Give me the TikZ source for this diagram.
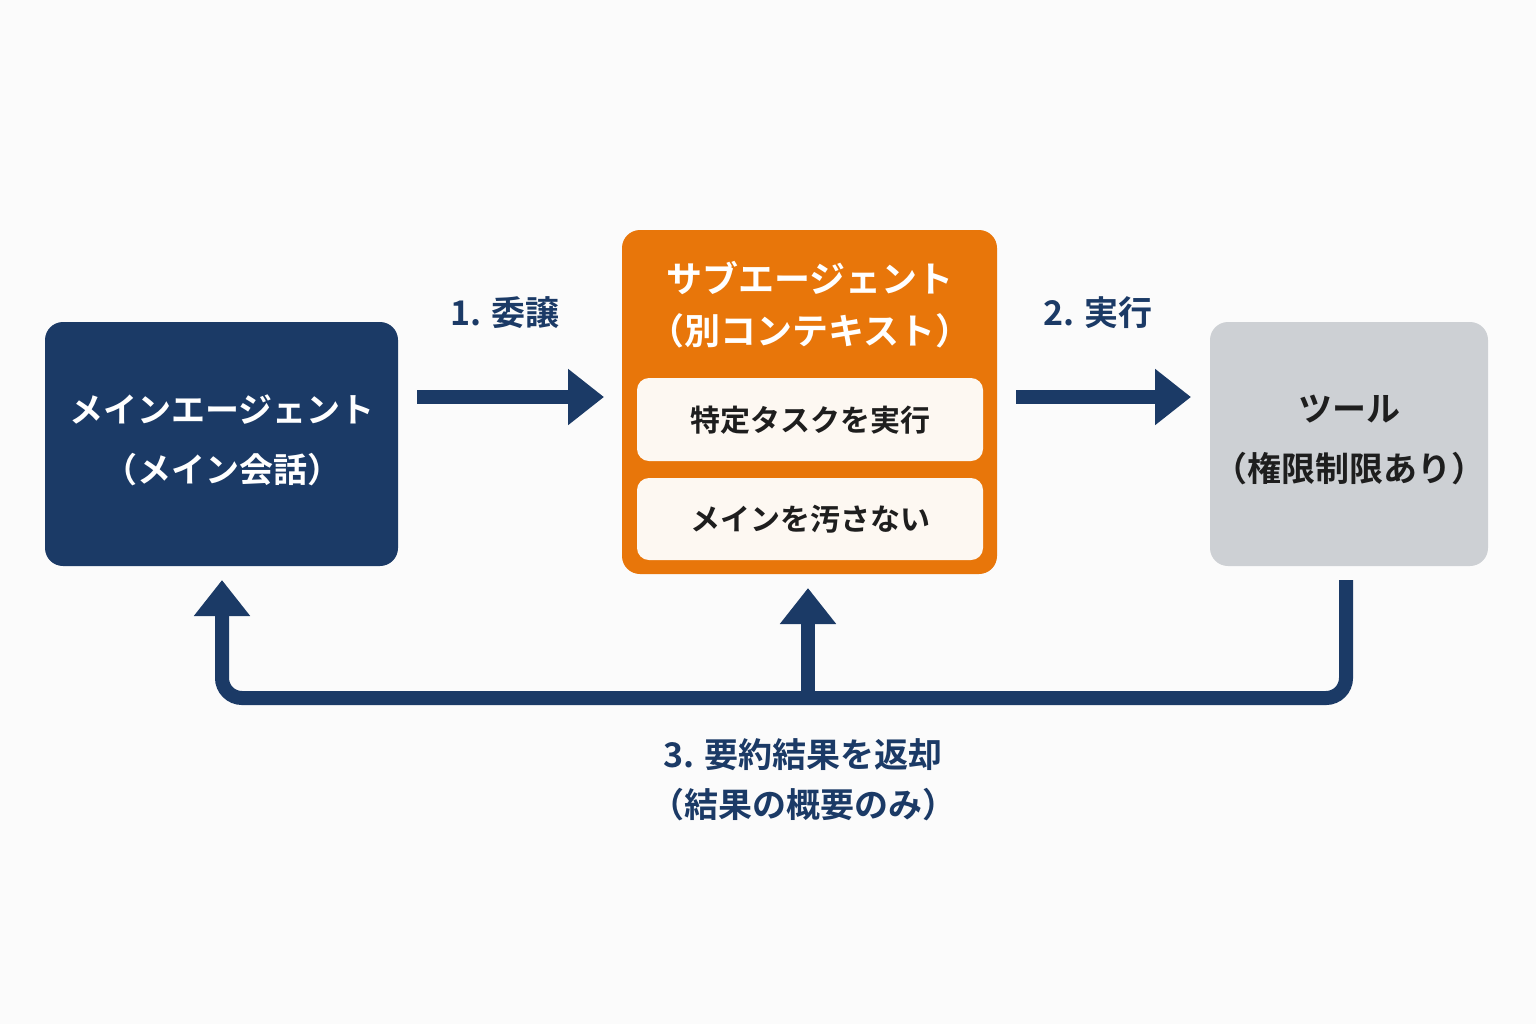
\documentclass[tikz,border=0pt]{standalone}
\usepackage{fontspec}
\setmainfont{Noto Sans CJK JP}[BoldFont={Noto Sans CJK JP Bold}]
\usetikzlibrary{arrows.meta}
\definecolor{navy}{HTML}{1B3A66}
\definecolor{org}{HTML}{E8760A}
\definecolor{gry}{HTML}{CDD0D4}
\definecolor{cream}{HTML}{FDF8F2}
\definecolor{txt}{HTML}{1E1E1E}
\begin{document}
\begin{tikzpicture}[x=0.5pt,y=-0.5pt,
  box/.style={rounded corners=9pt,inner sep=0pt},
  arr/.style={navy,line width=7pt,-{Triangle[width=27pt,length=18pt]}},
  lbl/.style={font=\bfseries\fontsize{17}{20}\selectfont,navy}]
\fill[white!97!gray] (0,0) rectangle (1536,1024);
\useasboundingbox (0,0) rectangle (1536,1024);
\fill[navy,box] (45,322) rectangle (398,566);
\node[white,font=\bfseries\fontsize{17}{30}\selectfont,align=center] (main) at (222,440) {メインエージェント\\（メイン会話）};
\coordinate (mainb) at (222,580);
\fill[org,box] (622,230) rectangle (997,574);
\node[white,font=\bfseries\fontsize{18}{26}\selectfont,align=center] (sub) at (810,305) {サブエージェント\\（別コンテキスト）};
\fill[cream,rounded corners=6pt] (637,378) rectangle (983,461);
\fill[cream,rounded corners=6pt] (637,478) rectangle (983,560);
\node[txt,font=\bfseries\fontsize{15}{18}\selectfont] (t1) at (810,420) {特定タスクを実行};
\node[txt,font=\bfseries\fontsize{15}{18}\selectfont] (t2) at (810,519) {メインを汚さない};
\coordinate (subb) at (808,588);
\fill[gry,box] (1210,322) rectangle (1488,566);
\node[txt,font=\bfseries\fontsize{17}{30}\selectfont,align=center] (tool) at (1349,440) {ツール\\（権限制限あり）};
\coordinate (toolb) at (1346,580);
\coordinate (a1s) at (417,397); \coordinate (a1e) at (604,397);
\coordinate (a2s) at (1016,397); \coordinate (a2e) at (1191,397);
\draw[arr] (a1s) -- (a1e);
\draw[arr] (a2s) -- (a2e);
\node[lbl] (l1) at (505,313) {1. 委譲};
\node[lbl] (l2) at (1098,313) {2. 実行};
\coordinate (c1) at (1346,698); \coordinate (c2) at (222,698);
\draw[navy,line width=7pt,rounded corners=10pt,-{Triangle[width=27pt,length=18pt]}] (toolb) -- (c1) -- (c2) -- (mainb);
\draw[arr] (808,698) -- (subb);
\node[lbl,align=center,font=\bfseries\fontsize{17}{25}\selectfont] (l3) at (803,780) {3. 要約結果を返却\\（結果の概要のみ）};
\end{tikzpicture}
\end{document}
